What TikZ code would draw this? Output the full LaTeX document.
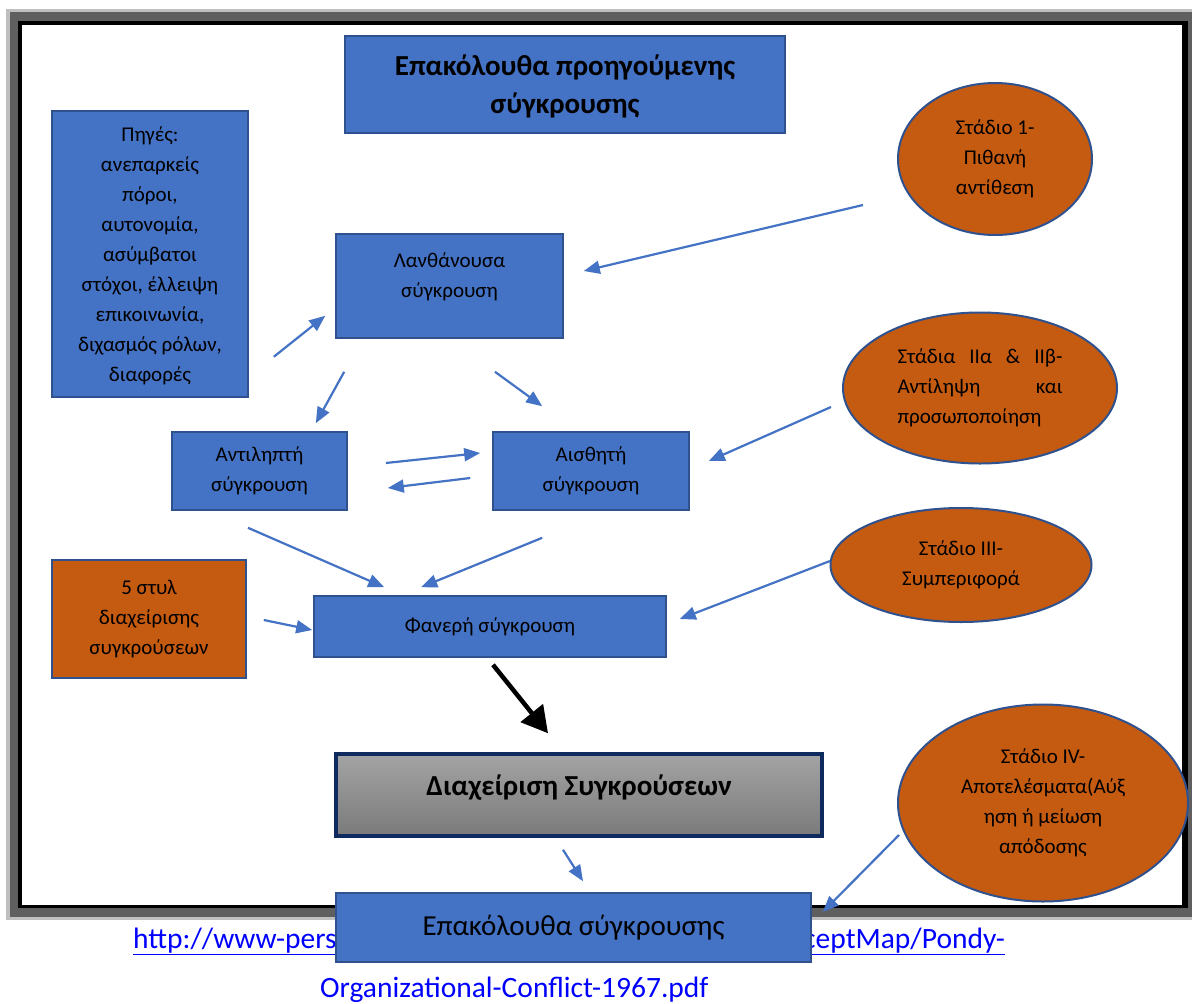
\documentclass[tikz,border=0pt]{standalone}
\usepackage{fontspec}
\setmainfont{Carlito}
\usetikzlibrary{shapes.geometric,arrows.meta}
\definecolor{boxblue}{HTML}{4472C4}
\definecolor{boxedge}{HTML}{2F528F}
\definecolor{stageorange}{HTML}{C55A11}
\definecolor{darknavy}{HTML}{0E2A5E}
\definecolor{linkblue}{HTML}{0000FF}
\definecolor{frameshadow}{HTML}{5F5F5F}
\definecolor{framelight}{HTML}{BFBFBF}
\tikzset{
	box/.style={draw=boxedge, line width=1.6pt, fill=boxblue, inner sep=0pt, align=center, font=\fontsize{21}{30}\selectfont},
	stagebox/.style={box, fill=stageorange},
	stage/.style={ellipse, draw=boxedge, line width=2pt, fill=stageorange, inner sep=0pt, align=center, font=\fontsize{21}{30}\selectfont},
	conn/.style={draw=boxblue, line width=2.2pt, -{Triangle[length=16pt,width=13pt]}},
	bigconn/.style={draw=black, line width=4.5pt, -{Triangle[length=26pt,width=28pt]}},
	link/.style={text=linkblue, inner sep=0pt, font=\fontsize{29.5}{34}\selectfont}
}
\begin{document}
\begin{tikzpicture}[x=1pt,y=-1pt]
	\useasboundingbox (0,0) rectangle (1192,1004);
	\fill[white] (0,0) rectangle (1192,1004);
	% frame
	\fill[framelight] (6,9) rectangle (1192,920);
	\fill[frameshadow] (10,12) rectangle (1192,917);
	\fill[black] (18,21) rectangle (1188,908);
	\fill[white] (22,25) rectangle (1182,905);

	\node[link, anchor=base west] (urlleft) at (133,948) {\underline{http://www-pers}};
	\node[link, anchor=base east] (urlright) at (1005,948) {\underline{ceptMap/Pondy-}};
	\node[link, anchor=base west] (urlend) at (320,997) {Organizational-Conflict-1967.pdf};

	\node[box, font=\bfseries\fontsize{29}{38}\selectfont, text depth=0pt, minimum width=440pt, minimum height=97pt] (title) at (565,84.5) {Επακόλουθα προηγούμενης\\σύγκρουσης};
	\node[box, text depth=0pt, minimum width=196pt, minimum height=286pt] (sources) at (150,254) {Πηγές:\\ανεπαρκείς\\πόροι,\\αυτονομία,\\ασύμβατοι\\στόχοι, έλλειψη\\επικοινωνία,\\διχασμός ρόλων,\\διαφορές};
	\node[box, text depth=21pt, minimum width=227pt, minimum height=104pt] (latent) at (449.5,286) {Λανθάνουσα\\σύγκρουση};
	\node[box, minimum width=175pt, minimum height=78pt] (perceived) at (259.5,471) {Αντιληπτή\\σύγκρουση};
	\node[box, minimum width=196pt, minimum height=78pt] (felt) at (591,471) {Αισθητή\\σύγκρουση};
	\node[stagebox, minimum width=194pt, minimum height=118pt] (styles) at (149,619) {5 στυλ\\διαχείρισης\\συγκρούσεων};
	\node[box, minimum width=352pt, minimum height=61pt] (manifest) at (490,626.5) {Φανερή σύγκρουση};
	\node[box, draw=darknavy, line width=3.5pt, top color=black!36, bottom color=black!52, font=\bfseries\fontsize{29}{34}\selectfont, text depth=19pt, minimum width=486pt, minimum height=82pt] (manage) at (579,795) {Διαχείριση Συγκρούσεων};
	\node[box, font=\fontsize{29}{34}\selectfont, minimum width=475pt, minimum height=69pt] (aftermath) at (573.5,927.5) {Επακόλουθα σύγκρουσης};

	\node[stage, minimum width=194pt, minimum height=152pt] (st1) at (995,159) {Στάδιο 1-\\Πιθανή\\αντίθεση};
	\node[stage, minimum width=274pt, minimum height=151pt, text width=165pt, align=justify] (st2) at (980,388) {\noindent Στάδια IIα \& IIβ-\linebreak Αντίληψη και\linebreak προσωποποίηση};
	\node[stage, minimum width=261pt, minimum height=114pt] (st3) at (961,565) {Στάδιο III-\\Συμπεριφορά};
	\node[stage, minimum width=290pt, minimum height=197pt] (st4) at (1043,803) {Στάδιο IV-\\Αποτελέσματα(Αύξ\\ηση ή μείωση\\απόδοσης};

	\draw[conn] ([shift={(25,-41)}]sources.south east) -- ([shift={(-10,-23)}]latent.south west);
	\draw[conn] ([shift={(-34,46)}]st1.west) -- ([shift={(20,-15)}]latent.east);
	\draw[conn] ([shift={(9,33)}]latent.south west) -- ([shift={(-32,-8)}]perceived.north east);
	\draw[conn] ([shift={(45.5,33)}]latent.south) -- ([shift={(50,-25)}]felt.north west);
	\draw[conn] ([shift={(38,-8)}]perceived.east) -- ([shift={(-12,-18)}]felt.west);
	\draw[conn] ([shift={(-22,7)}]felt.west) -- ([shift={(40,17)}]perceived.east);
	\draw[conn] ([shift={(-11,19)}]st2.west) -- ([shift={(19,-10)}]felt.east);
	\draw[conn] ([shift={(-11.5,17)}]perceived.south) -- ([shift={(71,-8)}]manifest.north west);
	\draw[conn] ([shift={(50,27)}]felt.south west) -- ([shift={(108,-8)}]manifest.north west);
	\draw[conn] ([shift={(17,1)}]styles.east) -- ([shift={(-1,3.5)}]manifest.west);
	\draw[conn] ([shift={(0.5,-4)}]st3.west) -- ([shift={(13,-7.5)}]manifest.east);
	\draw[bigconn] ([shift={(3,7)}]manifest.south) -- ([shift={(-31,-19)}]manage.north);
	\draw[conn] ([shift={(-16,12)}]manage.south) -- ([shift={(9.5,-11)}]aftermath.north);
	\draw[conn] ([shift={(2,32)}]st4.west) -- ([shift={(11,-15.5)}]aftermath.east);
\end{tikzpicture}
\end{document}
